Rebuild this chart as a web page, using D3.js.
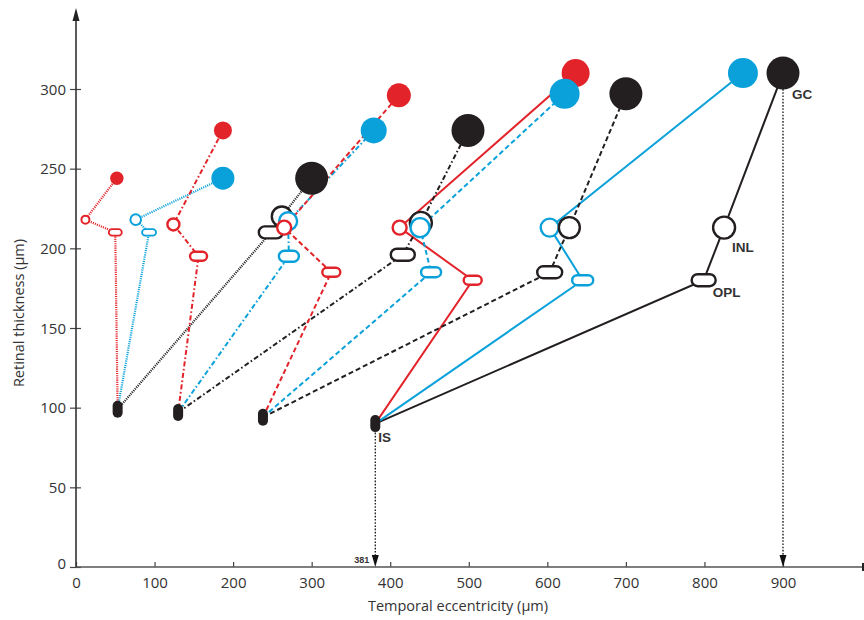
<!DOCTYPE html>
<meta charset="utf-8">
<style>
 body { margin: 0; background: #fff; }
 text { font-family: "Open Sans", sans-serif; fill: #333; }
 .tick text { font-size: 15px; }
 .lab { font-family: "Liberation Sans", Arial, sans-serif; font-weight: bold; font-size: 13.5px; fill: #333; }
 .axis-title { font-size: 14.5px; }
</style>
<svg id="chart" width="864" height="620"></svg>
<script src="https://cdn.jsdelivr.net/npm/d3@7"></script>
<script>

 // ---- data (µm) ----
 var xTicks = [0, 100, 200, 300, 400, 500, 600, 700, 800, 900];
 var yTicks = [0, 50, 100, 150, 200, 250, 300];

 // inner segment position for each of the 4 stages
 var isX = [53, 130, 238, 381];
 var isY = [99, 97, 94, 90];

 // [x, y] per stage
 var blackOPL = [[248, 210], [416, 196], [603, 185], [799, 180]];
 var blackINL = [[262, 220], [439, 216], [628, 213], [825, 213]];
 var blackGC  = [[300, 244], [499, 274], [700, 297], [900, 310]];

 var cyanOPL = [[93, 210], [271, 195], [452, 185], [645, 180]];
 var cyanINL = [[76, 218], [270, 217], [438, 213], [603, 213]];
 var cyanGC  = [[187, 244], [379, 274], [622, 297], [849, 310]];

 var redOPL = [[50, 210], [156, 195], [325, 185], [505, 180]];
 var redINL = [[12, 218], [124, 215], [265, 213], [412, 213]];
 var redGC  = [[52, 244], [187, 274], [411, 296], [636, 310]];

 var markIS = 381, markGC = 900;

 // ---- styles ----
 var colors = { black: "#231f20", cyan: "#0aa1da", red: "#e3232a" };
 var dashes = ["1.1,1.1", "5,2.5,1.6,2.5", "5,3", null];
 // marker sizes per colour, by stage
 var gcR  = { black: [16.5, 16.5, 16.5, 16.5], cyan: [11.5, 13, 15, 15], red: [6.7, 9, 12, 14] };
 var inlR = { black: [11, 12, 11.5, 12], cyan: [6.3, 10, 10.5, 10], red: [5, 7, 8, 8] };
 var oplW = { black: [24, 24, 25, 24], cyan: [14, 20, 20, 21], red: [13, 17, 18, 18] };
 var oplH = { black: [12, 12, 12, 12], cyan: [6.5, 11, 10, 10], red: [6.5, 9, 9, 9] };

 var series = [
     { name: "black", opl: blackOPL, inl: blackINL, gc: blackGC },
     { name: "cyan",  opl: cyanOPL,  inl: cyanINL,  gc: cyanGC },
     { name: "red",   opl: redOPL,   inl: redINL,   gc: redGC }
 ];

 var svg = d3.select("#chart");

 var x = d3.scaleLinear().domain([0, 900]).range([76, 783]);
 var y = d3.scaleLinear().domain([0, 300]).range([567, 89]);

 // ---- axes ----
 var xa = svg.append("g").attr("transform", "translate(0,567)")
     .call(d3.axisBottom(x).tickValues(xTicks).tickSize(-5).tickPadding(10));
 xa.select(".domain").remove();
 xa.selectAll(".tick line").attr("stroke", "#444").attr("stroke-width", 1.2);

 var ya = svg.append("g").attr("transform", "translate(76,0)")
     .call(d3.axisLeft(y).tickValues(yTicks).tickSize(6).tickPadding(4));
 ya.select(".domain").remove();
 ya.selectAll(".tick line").attr("x1", 5).attr("stroke", "#444").attr("stroke-width", 1.2);
 ya.selectAll(".tick text").attr("dy", "0.35em");
 ya.selectAll(".tick").filter(function(d) { return d == 0; }).select("text").attr("dy", "0.1em");

 svg.append("line").attr("x1", 76).attr("x2", 863).attr("y1", 567).attr("y2", 567)
    .attr("stroke", "#555").attr("stroke-width", 1.6);
 svg.append("line").attr("x1", 863).attr("x2", 863).attr("y1", 563).attr("y2", 571)
    .attr("stroke", "#222").attr("stroke-width", 2);
 svg.append("line").attr("x1", 76).attr("x2", 76).attr("y1", 567).attr("y2", 18)
    .attr("stroke", "#333").attr("stroke-width", 1.6);
 svg.append("path").attr("d", "M76,8 L72.5,21 L79.5,21 Z").attr("fill", "#222");

 svg.append("text").attr("class", "axis-title")
    .attr("x", 458).attr("y", 611).attr("text-anchor", "middle")
    .text("Temporal eccentricity (μm)");
 svg.append("text").attr("class", "axis-title")
    .attr("transform", "translate(24,313) rotate(-90)").attr("text-anchor", "middle")
    .text("Retinal thickness (µm)");

 // ---- marker lines ----
 var lineGen = d3.line().x(function(d) { return x(d[0]); }).y(function(d) { return y(d[1]); });
 var order = [3, 0, 1, 2];

 var lines = svg.append("g");
 order.forEach(function(s) {
     series.forEach(function(ser) {
         var pts = [[isX[s], isY[s]], ser.opl[s], ser.inl[s], ser.gc[s]];
         lines.append("path").attr("d", lineGen(pts))
              .attr("fill", "none")
              .attr("stroke", colors[ser.name])
              .attr("stroke-width", s == 0 ? 2.2 : 2)
              .attr("stroke-dasharray", dashes[s]);
     });
 });

 // annotation arrows
 function arrow(xv, y0) {
     var px = x(xv);
     svg.append("line").attr("x1", px).attr("x2", px).attr("y1", y0).attr("y2", 557)
        .attr("stroke", "#111").attr("stroke-width", 1.3).attr("stroke-dasharray", "1.6,1.6");
     svg.append("path").attr("d", "M" + px + ",567 L" + (px - 3.5) + ",555 L" + (px + 3.5) + ",555 Z")
        .attr("fill", "#111");
 }
 arrow(markIS, y(isY[3]) + 9);
 arrow(markGC, y(blackGC[3][1]));

 // ---- markers ----
 var marks = svg.append("g");
 order.forEach(function(s) {
     series.forEach(function(ser) {
         var c = colors[ser.name];
         var w = oplW[ser.name][s], h = oplH[ser.name][s];
         marks.append("rect")
              .attr("x", x(ser.opl[s][0]) - w / 2).attr("y", y(ser.opl[s][1]) - h / 2)
              .attr("width", w).attr("height", h).attr("rx", h / 2)
              .attr("fill", "#fff").attr("stroke", c).attr("stroke-width", s == 0 && ser.name != "black" ? 1.8 : 2.4);
         marks.append("circle")
              .attr("cx", x(ser.inl[s][0])).attr("cy", y(ser.inl[s][1]))
              .attr("r", inlR[ser.name][s] - 1)
              .attr("fill", "#fff").attr("stroke", c).attr("stroke-width", s == 0 && ser.name != "black" ? 2 : 2.4);
         marks.append("circle")
              .attr("cx", x(ser.gc[s][0])).attr("cy", y(ser.gc[s][1]))
              .attr("r", gcR[ser.name][s])
              .attr("fill", c);
     });
 });

 marks.selectAll(".is").data(isX).enter().append("rect")
      .attr("class", "is")
      .attr("x", function(d) { return x(d) - 5; })
      .attr("y", function(d, i) { return y(isY[i]) - 8.5; })
      .attr("width", 10).attr("height", 17).attr("rx", 5)
      .attr("fill", colors.black);

 // ---- labels ----
 var last = 3;
 svg.append("text").attr("class", "lab").attr("x", x(blackGC[last][0]) + 9).attr("y", y(blackGC[last][1]) + 26).text("GC");
 svg.append("text").attr("class", "lab").attr("x", x(blackINL[last][0]) + 8).attr("y", y(blackINL[last][1]) + 24).text("INL");
 svg.append("text").attr("class", "lab").attr("x", x(blackOPL[last][0]) + 9).attr("y", y(blackOPL[last][1]) + 17).text("OPL");
 svg.append("text").attr("class", "lab").attr("x", x(isX[last]) + 3).attr("y", y(isY[last]) + 18).text("IS");
 svg.append("text").attr("class", "lab").style("font-size", "9px")
    .attr("x", x(markIS) - 6).attr("y", 563).attr("text-anchor", "end").text(markIS);

</script>
